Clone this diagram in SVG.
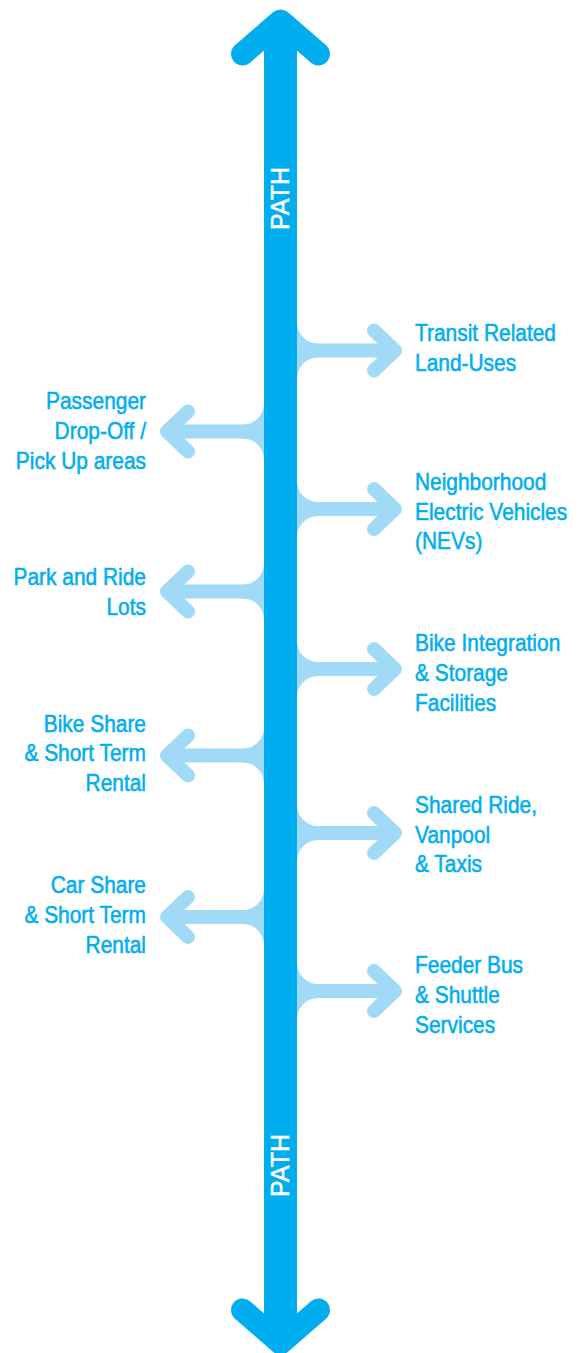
<svg xmlns="http://www.w3.org/2000/svg" width="582" height="1353" viewBox="0 0 582 1353">
<style>
.lbl{font-family:"Liberation Sans",Arial,sans-serif;font-size:23.5px;fill:#00AEEF;stroke:#00AEEF;stroke-width:0.55px}
.path-lbl{font-family:"Liberation Sans",Arial,sans-serif;font-size:25px;fill:#FFFFFF;stroke:#FFFFFF;stroke-width:0.5px}
.br{fill:none;stroke:#A0DAF6;stroke-width:14;stroke-linecap:round;stroke-linejoin:round}
.fl{fill:#A0DAF6}
.main{fill:none;stroke:#00AEEF;stroke-width:23;stroke-linecap:round;stroke-linejoin:round}
</style>
<rect width="582" height="1353" fill="#FFFFFF"/>
<g id="connectors">
  <g id="br-transit">
    <path class="fl" d="M297 322.5 A21 21 0 0 0 318 343.5 L318 357.5 A21 21 0 0 0 297 378.5 Z"/>
    <path class="br" d="M297 350.5 H395 M374 330.5 L395 350.5 L374 370.5"/>
  </g>
  <g id="br-nev">
    <path class="fl" d="M297 481 A21 21 0 0 0 318 502 L318 516 A21 21 0 0 0 297 537 Z"/>
    <path class="br" d="M297 509 H395 M374 489 L395 509 L374 529"/>
  </g>
  <g id="br-bike-int">
    <path class="fl" d="M297 641 A21 21 0 0 0 318 662 L318 676 A21 21 0 0 0 297 697 Z"/>
    <path class="br" d="M297 669 H395 M374 649 L395 669 L374 689"/>
  </g>
  <g id="br-shared">
    <path class="fl" d="M297 805 A21 21 0 0 0 318 826 L318 840 A21 21 0 0 0 297 861 Z"/>
    <path class="br" d="M297 833 H395 M374 813 L395 833 L374 853"/>
  </g>
  <g id="br-feeder">
    <path class="fl" d="M297 963 A21 21 0 0 0 318 984 L318 998 A21 21 0 0 0 297 1019 Z"/>
    <path class="br" d="M297 991 H395 M374 971 L395 991 L374 1011"/>
  </g>
  <g id="br-passenger">
    <path class="fl" d="M264 403.5 A21 21 0 0 1 243 424.5 L243 438.5 A21 21 0 0 1 264 459.5 Z"/>
    <path class="br" d="M264 431.5 H167 M188 411.5 L167 431.5 L188 451.5"/>
  </g>
  <g id="br-park">
    <path class="fl" d="M264 563.5 A21 21 0 0 1 243 584.5 L243 598.5 A21 21 0 0 1 264 619.5 Z"/>
    <path class="br" d="M264 591.5 H167 M188 571.5 L167 591.5 L188 611.5"/>
  </g>
  <g id="br-bikeshare">
    <path class="fl" d="M264 727.5 A21 21 0 0 1 243 748.5 L243 762.5 A21 21 0 0 1 264 783.5 Z"/>
    <path class="br" d="M264 755.5 H167 M188 735.5 L167 755.5 L188 775.5"/>
  </g>
  <g id="br-carshare">
    <path class="fl" d="M264 889 A21 21 0 0 1 243 910 L243 924 A21 21 0 0 1 264 945 Z"/>
    <path class="br" d="M264 917 H167 M188 897 L167 917 L188 937"/>
  </g>
  <g id="main-path">
    <rect x="264" y="21" width="33" height="1322" fill="#00AEEF"/>
    <polyline class="main" points="242.5,54 280.5,21 318.5,54"/>
    <polyline class="main" points="242.5,1310 280.5,1343 318.5,1310"/>
    <text class="path-lbl" text-anchor="middle" textLength="63" lengthAdjust="spacingAndGlyphs" transform="translate(288.5,198.5) rotate(-90)">PATH</text>
    <text class="path-lbl" text-anchor="middle" textLength="63" lengthAdjust="spacingAndGlyphs" transform="translate(289,1165.5) rotate(-90)">PATH</text>
  </g>
</g>
<g id="right-labels" transform="translate(415,0) scale(0.89,1)">
  <g id="n-transit"><text class="lbl" x="0" y="341">Transit Related</text><text class="lbl" x="0" y="371">Land-Uses</text></g>
  <g id="n-nev"><text class="lbl" x="0" y="490">Neighborhood</text><text class="lbl" x="0" y="520">Electric Vehicles</text><text class="lbl" x="0" y="549">(NEVs)</text></g>
  <g id="n-bike-int"><text class="lbl" x="0" y="651">Bike Integration</text><text class="lbl" x="0" y="681">&amp; Storage</text><text class="lbl" x="0" y="711">Facilities</text></g>
  <g id="n-shared"><text class="lbl" x="0" y="813">Shared Ride,</text><text class="lbl" x="0" y="843">Vanpool</text><text class="lbl" x="0" y="872">&amp; Taxis</text></g>
  <g id="n-feeder"><text class="lbl" x="0" y="973">Feeder Bus</text><text class="lbl" x="0" y="1003">&amp; Shuttle</text><text class="lbl" x="0" y="1033">Services</text></g>
</g>
<g id="left-labels" transform="translate(146,0) scale(0.89,1)" text-anchor="end">
  <g id="n-passenger"><text class="lbl" x="0" y="409">Passenger</text><text class="lbl" x="0" y="439">Drop-Off /</text><text class="lbl" x="0" y="469">Pick Up areas</text></g>
  <g id="n-park"><text class="lbl" x="0" y="585">Park and Ride</text><text class="lbl" x="0" y="615">Lots</text></g>
  <g id="n-bikeshare"><text class="lbl" x="0" y="732">Bike Share</text><text class="lbl" x="0" y="761">&amp; Short Term</text><text class="lbl" x="0" y="791">Rental</text></g>
  <g id="n-carshare"><text class="lbl" x="0" y="893">Car Share</text><text class="lbl" x="0" y="923">&amp; Short Term</text><text class="lbl" x="0" y="953">Rental</text></g>
</g>
</svg>
